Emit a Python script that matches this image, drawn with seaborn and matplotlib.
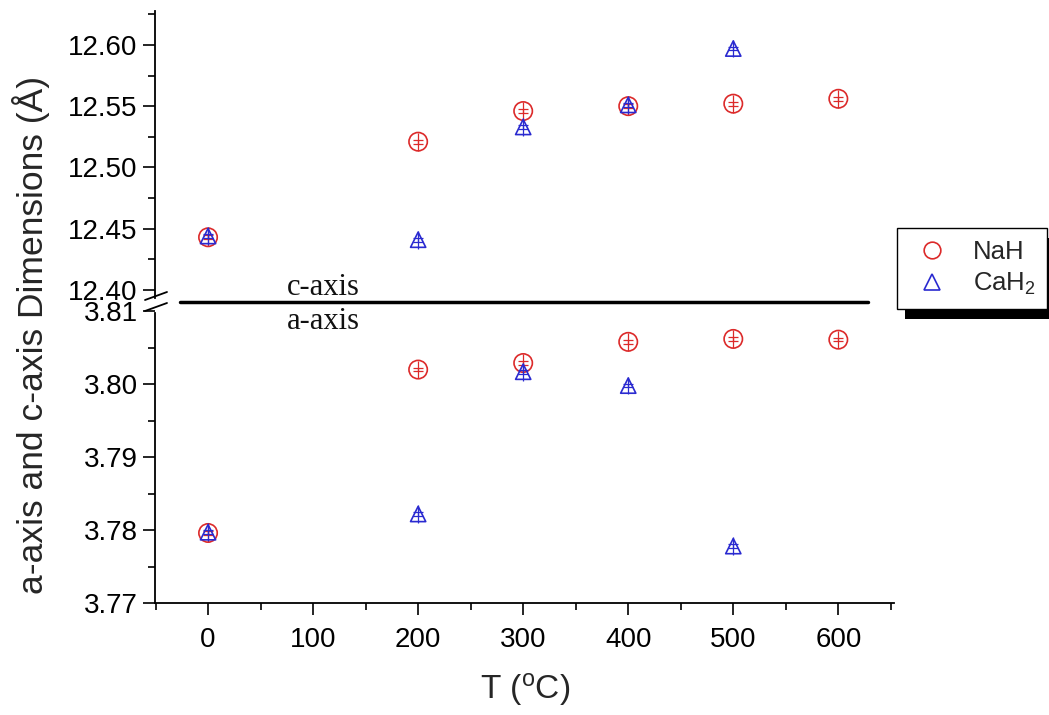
import matplotlib
matplotlib.use("Agg")
import matplotlib.pyplot as plt
import numpy as np
import pandas as pd
import seaborn as sns
from matplotlib.lines import Line2D
from matplotlib.patches import Rectangle
from matplotlib.ticker import MultipleLocator, FormatStrFormatter

# ---- lattice parameters vs temperature ----
nah_temps = [0, 200, 300, 400, 500, 600]
nah_c = [12.443, 12.521, 12.546, 12.550, 12.552, 12.556]
nah_a = [3.7796, 3.8020, 3.8029, 3.8058, 3.8062, 3.8061]

cah2_temps = [0, 200, 300, 400, 500]
cah2_c = [12.444, 12.441, 12.533, 12.551, 12.597]
cah2_a = [3.7797, 3.7822, 3.8017, 3.7998, 3.7778]

series_labels = ["NaH", "CaH$_\\mathregular{2}$"]

# small uncertainty bars drawn through each symbol (cap part / stem part)
c_err_cap, c_err_stem = 0.0015, 0.0072
a_err_cap, a_err_stem = 0.00025, 0.0012

RED = "#dc2a2a"
BLUE = "#2a2ad0"

sns.set_style("ticks")
plt.rcParams["font.family"] = ["Liberation Sans", "DejaVu Sans"]
plt.rcParams["mathtext.fontset"] = "custom"
plt.rcParams["mathtext.rm"] = "Liberation Sans"
plt.rcParams["mathtext.it"] = "Liberation Sans:italic"
plt.rcParams["mathtext.bf"] = "Liberation Sans:bold"

W, H = 1049, 715
fig = plt.figure(figsize=(W / 100, H / 100), dpi=100)
fig.patch.set_facecolor("white")

ax_top = fig.add_axes([155 / W, 1 - 301 / H, (894 - 155) / W, (301 - 13) / H])
ax_bot = fig.add_axes([155 / W, 1 - 603 / H, (894 - 155) / W, (603 - 301) / H])

df_nah = pd.DataFrame({"T": nah_temps, "c": nah_c, "a": nah_a})
df_cah = pd.DataFrame({"T": cah2_temps, "c": cah2_c, "a": cah2_a})

specs = [
    (df_nah, "o", 175, RED),
    (df_cah, "^", 120, BLUE),
]

for ax, col, e_cap, e_stem in [(ax_top, "c", c_err_cap, c_err_stem),
                               (ax_bot, "a", a_err_cap, a_err_stem)]:
    for df, mk, size, color in specs:
        sns.scatterplot(data=df, x="T", y=col, ax=ax, marker=mk, s=size,
                        facecolors="none", edgecolor=color, linewidth=1.2,
                        legend=False, zorder=3)
        ax.errorbar(df["T"], df[col], yerr=e_cap, fmt="none", ecolor=color,
                    elinewidth=0.9, capsize=3.5, capthick=0.9, zorder=3)
        ax.errorbar(df["T"], df[col], yerr=e_stem, fmt="none", ecolor=color,
                    elinewidth=0.9, capsize=0, zorder=3)

# ---- axis limits / ticks ----
for ax in (ax_top, ax_bot):
    ax.set_xlim(-50.5, 653)
    ax.set_facecolor("none")
    ax.set_xlabel("")
    ax.set_ylabel("")
    ax.spines["top"].set_visible(False)
    ax.spines["right"].set_visible(False)
    for s in ax.spines.values():
        s.set_linewidth(1.3)
        s.set_color("black")
    ax.tick_params(axis="both", which="major", direction="out", length=8.5,
                   width=1.2, labelsize=20, colors="black")
    ax.tick_params(axis="both", which="minor", direction="out", length=5,
                   width=1.2, colors="black")
    ax.tick_params(axis="y", which="major", pad=4)

ax_top.set_ylim(12.391, 12.626)
ax_top.yaxis.set_major_locator(MultipleLocator(0.05))
ax_top.yaxis.set_minor_locator(MultipleLocator(0.025))
ax_top.yaxis.set_major_formatter(FormatStrFormatter("%.2f"))
ax_top.spines["bottom"].set_visible(False)
ax_top.spines["left"].set_bounds(12.3935, 12.628)
ax_top.tick_params(axis="x", which="both", bottom=False, labelbottom=False)

ax_bot.set_ylim(3.77, 3.8114)
ax_bot.yaxis.set_major_locator(MultipleLocator(0.01))
ax_bot.yaxis.set_minor_locator(MultipleLocator(0.005))
ax_bot.yaxis.set_major_formatter(FormatStrFormatter("%.2f"))
ax_bot.spines["left"].set_bounds(3.77, 3.8097)
ax_bot.xaxis.set_major_locator(MultipleLocator(100))
ax_bot.xaxis.set_minor_locator(MultipleLocator(50))
ax_bot.xaxis.set_major_formatter(FormatStrFormatter("%d"))
ax_bot.tick_params(axis="x", which="major", pad=9)

# ---- axis break marks and c/a separator ----
for y0, y1 in [(300, 292), (311, 303)]:
    fig.add_artist(Line2D([145 / W, 167 / W], [1 - y0 / H, 1 - y1 / H],
                          color="black", lw=1.3, transform=fig.transFigure))
fig.add_artist(Line2D([180 / W, 868 / W], [1 - 302 / H, 1 - 302 / H],
                      color="black", lw=2.5, transform=fig.transFigure))
fig.text(323 / W, 1 - 295 / H, "c-axis", ha="center", va="baseline",
         family="Liberation Serif", size=22, color="#111111")
fig.text(323 / W, 1 - 329 / H, "a-axis", ha="center", va="baseline",
         family="Liberation Serif", size=22, color="#111111")

# ---- axis titles ----
fig.text(31 / W, 1 - 335 / H, "a-axis and c-axis Dimensions (Å)",
         rotation=90, ha="center", va="center", size=25.5)
fig.text(525 / W, 1 - 690 / H, "T ($^\\mathregular{o}$C)",
         ha="center", va="center", size=24)

# ---- legend with solid drop shadow ----
handles = [
    Line2D([], [], marker="o", linestyle="none", markerfacecolor="none",
           markeredgecolor=RED, markersize=12, markeredgewidth=1.2),
    Line2D([], [], marker="^", linestyle="none", markerfacecolor="none",
           markeredgecolor=BLUE, markersize=12, markeredgewidth=1.2),
]
leg = fig.legend(handles, series_labels, loc="upper left",
                 bbox_to_anchor=(897 / W, 1 - 228 / H), borderaxespad=0,
                 frameon=True, fancybox=False, edgecolor="black", framealpha=1,
                 fontsize=18.5, handlelength=1.8, handletextpad=0.7,
                 borderpad=0.45, labelspacing=0.3)
leg.get_frame().set_linewidth(1.0)

fig.canvas.draw()
bb = leg.get_window_extent(fig.canvas.get_renderer())
bbf = bb.transformed(fig.transFigure.inverted())
fig.add_artist(Rectangle((bbf.x0 + 8 / W, bbf.y0 - 10 / H), bbf.width, bbf.height,
                         transform=fig.transFigure, facecolor="black",
                         edgecolor="none", zorder=leg.get_zorder() - 0.5))

fig.savefig("out.png", dpi=100, facecolor="white")
